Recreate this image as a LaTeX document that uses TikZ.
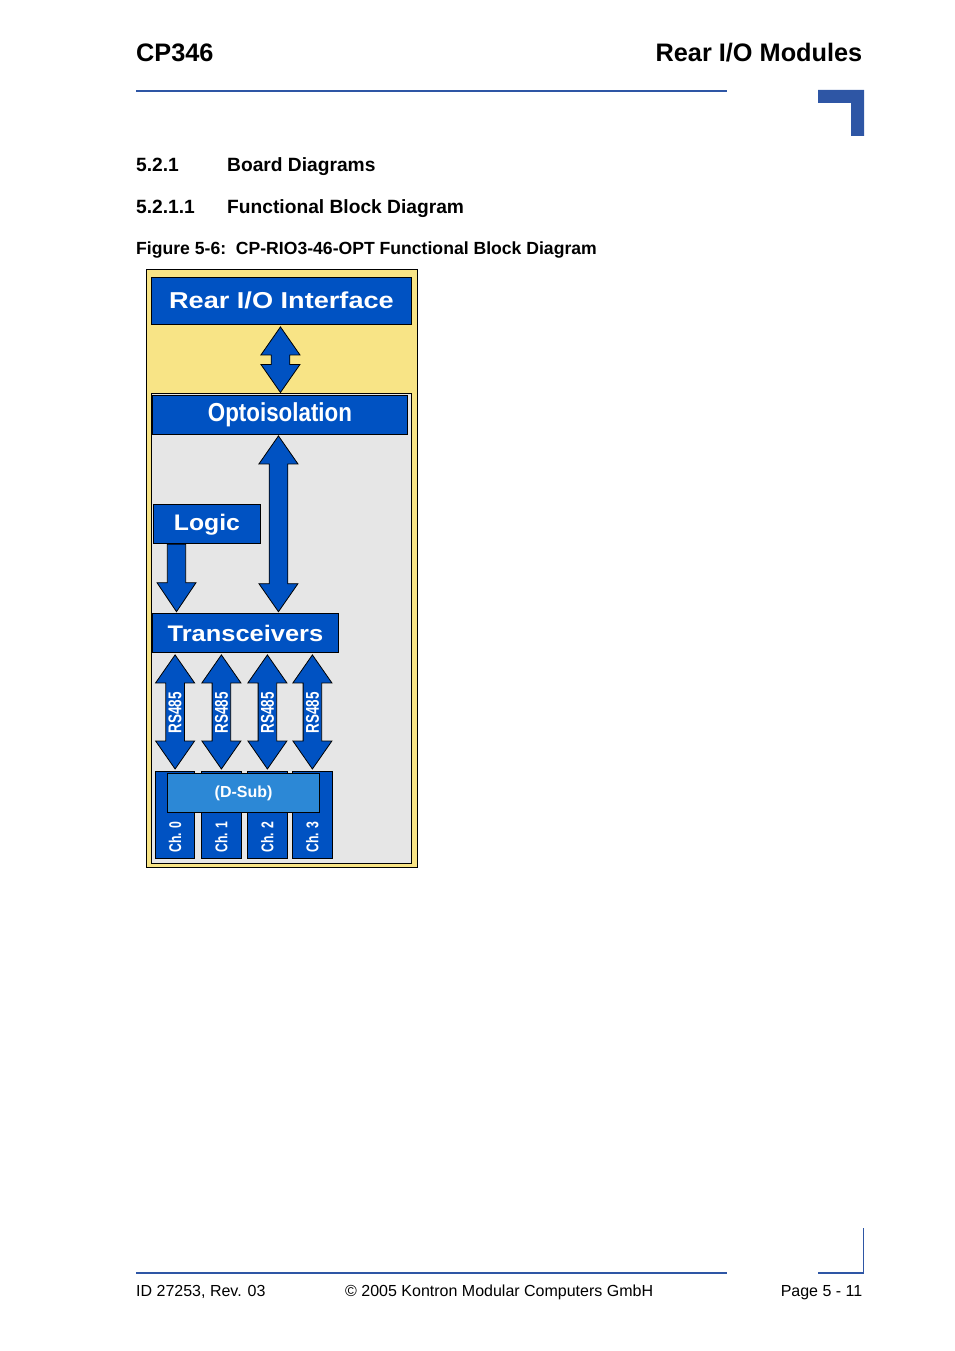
\documentclass[tikz,border=0pt]{standalone}
\usepackage{fontspec}
\setmainfont{Liberation Sans}
\usetikzlibrary{calc, positioning}

\definecolor{kblue}{HTML}{0052C2}
\definecolor{klight}{HTML}{2C88D6}
\definecolor{kyellow}{HTML}{F8E486}
\definecolor{kgray}{HTML}{E6E6E6}
\definecolor{kpage}{HTML}{2E56A5}

\tikzset{%
    blokk/.style    = {rectangle, draw=black, line width=0.9pt, fill=kblue,
                       text=white, inner sep=0pt, anchor=north west},
    plug/.style     = {rectangle, draw=black, line width=0.9pt, fill=kblue,
                       inner sep=0pt, anchor=north west,
                       minimum width=39.3pt, minimum height=87.6pt},
    fatarrow/.style = {draw=black, line width=0.8pt, fill=kblue, line join=miter},
    rslabel/.style  = {rotate=90, text=white, inner sep=0pt,
                       font=\bfseries\fontsize{18.5}{18.5}\selectfont},
    chlabel/.style  = {rotate=90, text=white, inner sep=0pt, anchor=west,
                       font=\bfseries\fontsize{17}{17}\selectfont},
    pagetext/.style = {inner sep=0pt, anchor=base west},
}

% two-headed block arrow, first point = upper tip, second = lower tip
\newcommand{\twowayarrow}[2]{%
    \draw[fatarrow] let \p1=(#1), \p2=(#2) in
        (\x1,\y1) -- (\x1+19.5pt,\y1-28pt) -- (\x1+9.3pt,\y1-28pt)
        -- (\x1+9.3pt,\y2+28pt) -- (\x1+19.5pt,\y2+28pt) -- (\x1,\y2)
        -- (\x1-19.5pt,\y2+28pt) -- (\x1-9.3pt,\y2+28pt)
        -- (\x1-9.3pt,\y1-28pt) -- (\x1-19.5pt,\y1-28pt) -- cycle;}
% one-headed block arrow going down, first point = shaft top, second = tip
\newcommand{\downarrowfat}[2]{%
    \draw[fatarrow] let \p1=(#1), \p2=(#2) in
        (\x1-9.2pt,\y1) -- (\x1+9.2pt,\y1) -- (\x1+9.2pt,\y2+29pt)
        -- (\x1+19.5pt,\y2+29pt) -- (\x1,\y2) -- (\x1-19.5pt,\y2+29pt)
        -- (\x1-9.2pt,\y2+29pt) -- cycle;}

\begin{document}
\begin{tikzpicture}[x=1pt, y=-1pt]
    \useasboundingbox (0,0) rectangle (954,1351);

    % page head
    \node (docname) [pagetext, font=\bfseries\fontsize{25.3}{26}\selectfont] at (136,61.7) {CP346};
    \node (chapter) [pagetext, anchor=base east, font=\bfseries\fontsize{25.3}{26}\selectfont] at (862.5,61.7) {Rear I/O Modules};
    \draw[kpage, line width=2pt] (136,90.8) -- (727,90.8);
    \fill[kpage] (818,90) -- (864,90) -- (864,136) -- (851,136) -- (851,103) -- (818,103) -- cycle;

    \node (secnum)  [pagetext, font=\bfseries\fontsize{19.2}{20}\selectfont] at (136,172) {5.2.1};
    \node (sectit)  [pagetext, font=\bfseries\fontsize{19.2}{20}\selectfont] at (227,172) {Board Diagrams};
    \node (subnum)  [pagetext, font=\bfseries\fontsize{19.2}{20}\selectfont] at (136,213) {5.2.1.1};
    \node (subtit)  [pagetext, font=\bfseries\fontsize{19.2}{20}\selectfont] at (227,213) {Functional Block Diagram};
    \node (figcap)  [pagetext, font=\bfseries\fontsize{17.6}{18}\selectfont] at (136,254)
        {Figure 5-6:\ \ CP-RIO3-46-OPT Functional Block Diagram};

    % board frames
    \node (board) [rectangle, draw=black, line width=1pt, fill=kyellow, anchor=north west,
                   minimum width=271pt, minimum height=598pt] at (145.5,268.5) {};
    \node (inner) [rectangle, draw=black, line width=1pt, fill=kgray, anchor=north west,
                   minimum width=260pt, minimum height=470pt] at (150.5,392.5) {};

    % blocks
    \node (rear)  [blokk, minimum width=260pt, minimum height=47pt,
                   font=\bfseries\fontsize{23}{23}\selectfont] at (151,276.5)
                   {\scalebox{1.18}[1]{Rear I/O Interface}};
    \node (opto)  [blokk, minimum width=254.4pt, minimum height=39.3pt,
                   font=\bfseries\fontsize{26}{26}\selectfont] at (152.3,395)
                   {\scalebox{0.86}[1]{Optoisolation}};
    \node (logic) [blokk, minimum width=107.6pt, minimum height=39pt,
                   font=\bfseries\fontsize{22.5}{22.5}\selectfont] at (152.7,504.3)
                   {\scalebox{1.1}[1]{Logic}};
    \node (trx)   [blokk, minimum width=185.4pt, minimum height=39pt,
                   font=\bfseries\fontsize{22.5}{22.5}\selectfont] at (152.3,613.3)
                   {\scalebox{1.13}[1]{Transceivers}};

    % connector blocks
    \node (ch0) [plug] at (155,770.7) {};
    \node (ch1) [plug] at (201.3,770.7) {};
    \node (ch2) [plug] at (247.3,770.7) {};
    \node (ch3) [plug] at (292.3,770.7) {};
    \node (dsub) [blokk, fill=klight, minimum width=151.7pt, minimum height=39pt,
                  font=\bfseries\fontsize{16}{16}\selectfont] at (167.3,773.3) {(D-Sub)};

    \node (lbl0) [chlabel] at ([yshift=6.6pt]ch0.south) {\scalebox{0.72}[1]{Ch. 0}};
    \node (lbl1) [chlabel] at ([yshift=6.6pt]ch1.south) {\scalebox{0.72}[1]{Ch. 1}};
    \node (lbl2) [chlabel] at ([yshift=6.6pt]ch2.south) {\scalebox{0.72}[1]{Ch. 2}};
    \node (lbl3) [chlabel] at ([yshift=6.6pt]ch3.south) {\scalebox{0.72}[1]{Ch. 3}};

    % block arrows
    \twowayarrow{$(rear.south)+(-1,2.5)$}{inner.north};
    \twowayarrow{$(opto.south)+(-1.5,0.7)$}{$(trx.north)+(0,-1.6)$};
    \downarrowfat{$(logic.south west)+(23.8,0)$}{$(trx.north)+(0,-1.6)$};

    \twowayarrow{$(trx.south -| ch0)+(0,1.7)$}{$(ch0.north)+(0,-1.7)$};
    \twowayarrow{$(trx.south -| ch1)+(0,1.7)$}{$(ch1.north)+(0,-1.7)$};
    \twowayarrow{$(trx.south -| ch2)+(0,1.7)$}{$(ch2.north)+(0,-1.7)$};
    \twowayarrow{$(trx.south -| ch3)+(0,1.7)$}{$(ch3.north)+(0,-1.7)$};

    \node (rs0) [rslabel] at ($(trx.south -| ch0)!0.5!(ch0.north)+(0,1)$) {\scalebox{0.73}[1]{RS485}};
    \node (rs1) [rslabel] at ($(trx.south -| ch1)!0.5!(ch1.north)+(0,1)$) {\scalebox{0.73}[1]{RS485}};
    \node (rs2) [rslabel] at ($(trx.south -| ch2)!0.5!(ch2.north)+(0,1)$) {\scalebox{0.73}[1]{RS485}};
    \node (rs3) [rslabel] at ($(trx.south -| ch3)!0.5!(ch3.north)+(0,1)$) {\scalebox{0.73}[1]{RS485}};

    % page foot
    \draw[kpage, line width=1.6pt] (136,1273) -- (727,1273);
    \draw[kpage, line width=1.3pt] (818,1273) -- (863.5,1273) -- (863.5,1227.5);
    \node (docid)  [pagetext, font=\fontsize{16}{17}\selectfont] at (136,1296) {ID 27253, Rev. 03};
    \node (copyr)  [pagetext, font=\fontsize{16}{17}\selectfont] at (345,1296) {© 2005 Kontron Modular Computers GmbH};
    \node (pageno) [pagetext, anchor=base east, font=\fontsize{16}{17}\selectfont] at (862.5,1296) {Page 5 - 11};
\end{tikzpicture}
\end{document}
